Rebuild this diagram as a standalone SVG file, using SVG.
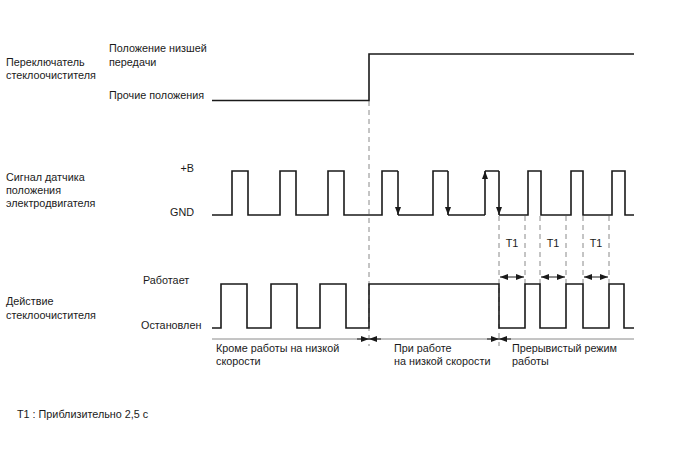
<svg xmlns="http://www.w3.org/2000/svg" width="688" height="463" viewBox="0 0 688 463">
<defs>
<marker id="ah" markerWidth="8" markerHeight="6" refX="8" refY="3" orient="auto" markerUnits="userSpaceOnUse">
<path d="M0,0 L8,3 L0,6 Z" fill="#1a1a1a"/>
</marker>
<style>
text{font-family:"Liberation Sans",Arial,sans-serif;font-size:10.8px;fill:#1a1a1a}
.sig{fill:none;stroke:#1a1a1a;stroke-width:1.6}
.dash{fill:none;stroke:#8a8a8a;stroke-width:1;stroke-dasharray:5,4}
.thin{fill:none;stroke:#8a8a8a;stroke-width:1}
.arr{fill:none;stroke:#1a1a1a;stroke-width:1;marker-end:url(#ah)}
.arrs{fill:none;stroke:#1a1a1a;stroke-width:1.6;marker-end:url(#ah)}
</style>
</defs>
<rect width="688" height="463" fill="#fff"/>

<g id="connectors">
<path class="dash" d="M369,101 V346"/>
<path class="dash" d="M499,216 V346"/>
<path class="dash" d="M525,216 V284"/>
<path class="dash" d="M540,216 V284"/>
<path class="dash" d="M566,216 V284"/>
<path class="dash" d="M583,216 V284"/>
<path class="dash" d="M609,216 V284"/>
<path class="thin" d="M212,339 H634"/>
<path class="arr" d="M357,339 H369"/>
<path class="arr" d="M381,339 H369"/>
<path class="arr" d="M487,339 H499"/>
<path class="arr" d="M511,339 H499"/>
<path class="arr" d="M512,277 H500"/>
<path class="arr" d="M512,277 H524"/>
<path class="arr" d="M553,277 H541"/>
<path class="arr" d="M553,277 H565"/>
<path class="arr" d="M596,277 H584"/>
<path class="arr" d="M596,277 H608"/>
</g>

<g id="wiper-switch">
<text x="6" y="66">Переключатель</text>
<text x="6" y="79">стеклоочистителя</text>
<text x="109" y="52">Положение низшей</text>
<text x="109" y="66">передачи</text>
<text x="109" y="99">Прочие положения</text>
<path class="sig" d="M212,100.5 H369 V54 H634"/>
</g>

<g id="motor-signal">
<text x="6" y="181">Сигнал датчика</text>
<text x="6" y="194">положения</text>
<text x="6" y="207">электродвигателя</text>
<text x="194" y="172" text-anchor="end">+B</text>
<text x="194" y="216" text-anchor="end">GND</text>
<path class="sig" d="M212,215 H232 V171 H248 V215 H280 V171 H296 V215 H328 V171 H344 V215 H382 V171 H398 M398,215 H433 V171 H448 M448,215 H485 M499,171 H485 M499,215 H528 V171 H541 V215 H571 V171 H583 V215 H612 V171 H625 V215 H634"/>
<path class="arrs" d="M398,171 V215"/>
<path class="arrs" d="M448,171 V215"/>
<path class="arrs" d="M485,215 V171"/>
<path class="arrs" d="M499,171 V215"/>
</g>

<g id="t1-labels">
<text x="512" y="247" text-anchor="middle">T1</text>
<text x="553" y="247" text-anchor="middle">T1</text>
<text x="596" y="247" text-anchor="middle">T1</text>
</g>

<g id="wiper-action">
<text x="6" y="305">Действие</text>
<text x="6" y="319">стеклоочистителя</text>
<text x="143" y="284">Работает</text>
<text x="141" y="329">Остановлен</text>
<path class="sig" d="M212,328 H221 V284 H247 V328 H271 V284 H297 V328 H320 V284 H346 V328 H369 V284 H499 V328 H525 V284 H540 V328 H566 V284 H583 V328 H609 V284 H624 V328 H634"/>
</g>

<g id="modes">
<text x="216" y="352">Кроме работы на низкой</text>
<text x="216" y="365">скорости</text>
<text x="394" y="352">При работе</text>
<text x="394" y="365">на низкой скорости</text>
<text x="512" y="352">Прерывистый режим</text>
<text x="512" y="365">работы</text>
</g>

<g id="note">
<text x="17" y="418">T1 : Приблизительно 2,5 с</text>
</g>
</svg>
